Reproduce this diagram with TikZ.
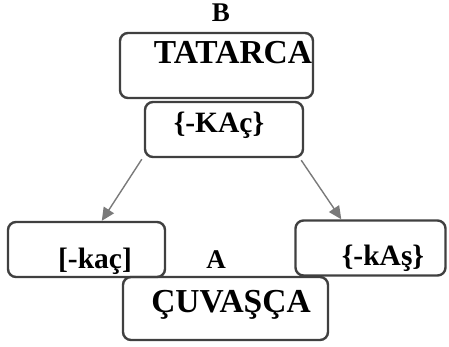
\documentclass[tikz,border=0pt]{standalone}
\usepackage{fontspec}
\setmainfont{Liberation Serif}
\usetikzlibrary{calc,arrows.meta}
\definecolor{boxline}{HTML}{404040}
\definecolor{arrowgray}{HTML}{7A7A7A}
\tikzset{
  framebox/.style={draw=boxline, line width=2.4pt, rounded corners=8pt, inner sep=0pt},
  bigtxt/.style={font=\fontsize{33.5}{33.5}\selectfont\bfseries, anchor=base, inner sep=0pt},
  smalltxt/.style={font=\fontsize{29.5}{29.5}\selectfont\bfseries, anchor=base, inner sep=0pt},
  lettertxt/.style={font=\fontsize{27}{27}\selectfont\bfseries, anchor=base, inner sep=0pt},
  derive/.style={draw=arrowgray, line width=1.4pt, -{Triangle[length=13pt,width=12pt]}}
}
\begin{document}
\begin{tikzpicture}[x=1pt,y=-1pt]
\useasboundingbox (0,0) rectangle (449,346);
% frames
\node[framebox, minimum width=193pt, minimum height=65pt] (tat) at (216.5,65.5) {};
\node[framebox, minimum width=158pt, minimum height=55pt] (kac) at (224,129.5) {};
\node[framebox, minimum width=157pt, minimum height=55pt] (left) at (86.5,249.5) {};
\node[framebox, minimum width=150pt, minimum height=55pt] (right) at (370.5,248) {};
\node[framebox, minimum width=205pt, minimum height=63pt] (chu) at (225.5,308.5) {};
% labels
\node[lettertxt] (B) at (221,21) {B};
\node[bigtxt] (tattxt) at (233,63) {TATARCA};
\node[smalltxt] (kactxt) at (219,132) {\{-KAç\}};
\node[smalltxt] (lefttxt) at (95,268) {[-kaç]};
\node[lettertxt] (A) at (216,268) {A};
\node[smalltxt] (righttxt) at (383,265) {\{-kAş\}};
\node[bigtxt] (chutxt) at (231,312) {ÇUVAŞÇA};
% derivation arrows
\draw[derive] ($(kac.south west)+(-2,1)$) -- ($(left.north west)+(95,0)$);
\draw[derive] ($(kac.south east)+(-3,2)$) -- ($(right.north west)+(47,0)$);
\end{tikzpicture}
\end{document}
